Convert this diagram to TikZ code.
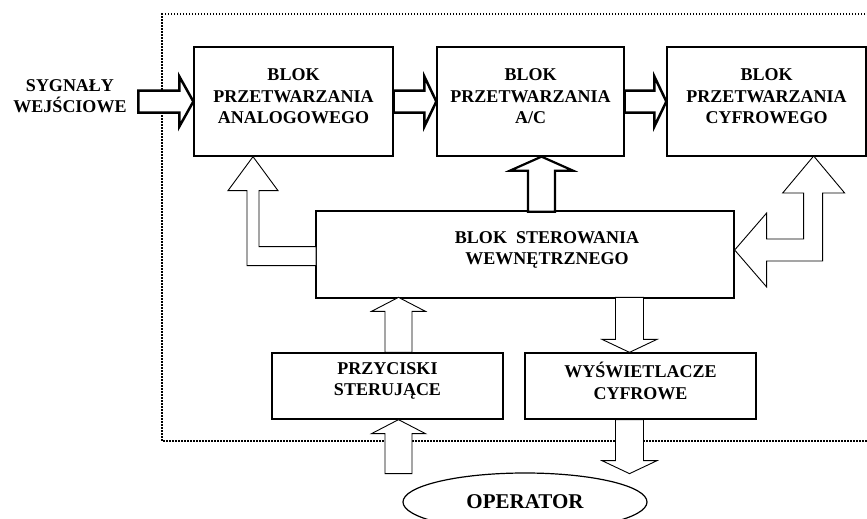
\documentclass[tikz,border=0pt]{standalone}
\usepackage{fontspec}
\setmainfont{Liberation Serif}
\usetikzlibrary{shapes.geometric}
\newcommand{\napis}{\fontsize{18}{21.5}\selectfont\bfseries}
\tikzset{
napis/.style={font=\napis, align=center, inner sep=0pt},
blok/.style={draw, line width=1.3pt, label={[napis, yshift=5pt]center:{#1}}},
gruba/.style={draw, line width=2.5pt, fill=white},
cienka/.style={draw, line width=0.9pt, fill=white},
ramka/.style={line width=1.4pt, dash pattern=on 1.5pt off 1.5pt}
}
\begin{document}
\begin{tikzpicture}[x=1pt, y=-1pt]
\useasboundingbox (0,0) rectangle (867,519);
\clip (0,0) rectangle (867,519);
% ramka
\draw[ramka] (880,14) -- (162,14) -- (162,441) -- (880,441);
% bloki
\node[blok={BLOK\\PRZETWARZANIA\\ANALOGOWEGO}, minimum width=199pt, minimum height=109pt] (analog) at (293.5,101.5) {};
\node[blok={BLOK\\PRZETWARZANIA\\A/C}, minimum width=187pt, minimum height=109pt] (ac) at (530.5,101.5) {};
\node[blok={BLOK\\PRZETWARZANIA\\CYFROWEGO}, minimum width=199pt, minimum height=109pt] (cyfr) at (766.5,101.5) {};
\node[draw, line width=1.3pt, minimum width=418pt, minimum height=87pt, label={[napis, xshift=22pt, yshift=4.5pt]center:{BLOK\ \ STEROWANIA\\WEWNĘTRZNEGO}}] (ster) at (525,254.5) {};
\node[blok={PRZYCISKI\\STERUJĄCE}, minimum width=231pt, minimum height=66pt] (przyc) at (387.5,386) {};
\node[blok={WYŚWIETLACZE\\CYFROWE}, minimum width=231pt, minimum height=66pt] (wysw) at (640.5,386) {};
\node[draw, ellipse, line width=1.2pt, minimum width=244pt, minimum height=58pt, font=\fontsize{21}{24}\selectfont\bfseries] (oper) at (525,502) {OPERATOR};
\node[napis] (wej) at (70,96) {SYGNAŁY\\WEJŚCIOWE};
% strzalki grube
\draw[gruba] (analog.west) -- ++(-14,-25) -- ++(0,14) -- ++(-41,0) -- ++(0,22) -- ++(41,0) -- ++(0,14) -- cycle;
\draw[gruba] (ac.west) -- ++(-12,-25) -- ++(0,14) -- ([yshift=11pt]analog.east) -- ([yshift=-11pt]analog.east) -- ([xshift=-12pt,yshift=-11pt]ac.west) -- ++(0,14) -- cycle;
\draw[gruba] (cyfr.west) -- ++(-12,-25) -- ++(0,14) -- ([yshift=11pt]ac.east) -- ([yshift=-11pt]ac.east) -- ([xshift=-12pt,yshift=-11pt]cyfr.west) -- ++(0,14) -- cycle;
\draw[gruba, line width=2.2pt] ([xshift=11pt]ac.south) -- ++(31.5,14) -- ++(-18,0) -- ++(0,41) -- ++(-27,0) -- ++(0,-41) -- ++(-18,0) -- cycle;
% strzalki cienkie
\draw[cienka] ([xshift=-40.5pt]analog.south) -- ++(25,34) -- ++(-19,0) -- ++(0,56) -- ++(57,0) -- ++(0,19) -- ++(-69,0) -- ++(0,-75) -- ++(-19,0) -- cycle;
\draw[cienka] ([yshift=4.5pt]ster.east) -- ++(32,-37) -- ++(0,26) -- ++(37,0) -- ++(0,-46) -- ++(-21,0) -- ++(31,-37) -- ++(31,37) -- ++(-22,0) -- ++(0,68) -- ++(-56,0) -- ++(0,26) -- cycle;
\draw[cienka] ([xshift=-2.5pt]przyc.north) -- ++(0,-41) -- ++(-13.5,0) -- ++(27,-14) -- ++(27,14) -- ++(-13.5,0) -- ++(0,41) -- cycle;
\draw[cienka] ([xshift=11pt]przyc.south) -- ++(27,14) -- ++(-13.5,0) -- ++(0,40) -- ++(-27,0) -- ++(0,-40) -- ++(-13.5,0) -- cycle;
\draw[cienka] ([xshift=-11pt]wysw.north) -- ++(27.5,-13) -- ++(-13.5,0) -- ++(0,-42) -- ++(-28,0) -- ++(0,42) -- ++(-13.5,0) -- cycle;
\draw[cienka] ([xshift=-25pt]wysw.south) -- ++(0,41) -- ++(-13.5,0) -- ++(27.5,13) -- ++(27.5,-13) -- ++(-13.5,0) -- ++(0,-41) -- cycle;
\end{tikzpicture}
\end{document}
